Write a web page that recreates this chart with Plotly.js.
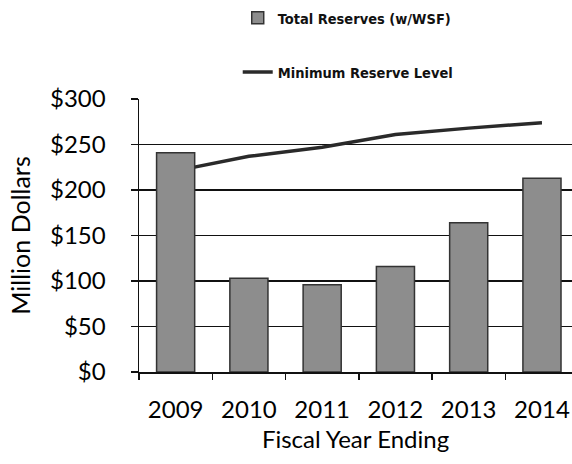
<!DOCTYPE html>
<html>
<head>
<meta charset="utf-8">
<script src="https://cdn.plot.ly/plotly-3.0.1.min.js"></script>
<style>html,body{margin:0;padding:0;background:#fff;}#chart{width:572px;height:464px;}</style>
</head>
<body>
<div id="chart"></div>
<script>
const years = ['2009', '2010', '2011', '2012', '2013', '2014'];
const totalReserves = [241, 103, 96, 116, 164, 213];
const minimumReserve = [221, 237, 247, 261, 268, 274];
const yTicks = [0, 50, 100, 150, 200, 250, 300];
const yTickLabels = yTicks.map(v => '$' + v);

const baseFont = 'Lato, "Open Sans", sans-serif';
const tickFont = {family: baseFont, size: 24, color: '#000'};
const legFont = {family: '"DejaVu Sans Condensed", "DejaVu Sans", sans-serif', size: 14.5, color: '#111', weight: 'bold'};

const traces = [
  {
    type: 'scatter', mode: 'lines', name: 'Minimum Reserve Level',
    x: years, y: minimumReserve, xaxis: 'x', yaxis: 'y',
    line: {color: '#2a2a2a', width: 3.5},
    legend: 'legend2', hoverinfo: 'skip'
  },
  {
    type: 'bar', name: 'Total Reserves (w/WSF)',
    x: years, y: totalReserves, xaxis: 'x', yaxis: 'y2',
    marker: {color: '#8d8d8d', line: {color: '#333', width: 1.5}},
    legend: 'legend', hoverinfo: 'skip'
  }
];

const layout = {
  width: 572, height: 464,
  margin: {l: 139, r: 0, t: 99, b: 92},
  paper_bgcolor: '#fff', plot_bgcolor: '#fff',
  bargap: 0.48,
  showlegend: true,
  xaxis: {
    type: 'category', range: [-0.5, 5.41],
    showline: true, linecolor: '#111', linewidth: 1.5,
    ticks: 'outside', tickson: 'boundaries', ticklen: 6, tickcolor: '#111', tickwidth: 1.5,
    tickfont: tickFont, ticklabelstandoff: 16,
    showgrid: false,
    title: {text: 'Fiscal Year Ending', font: {family: baseFont, size: 24, color: '#000'}, standoff: 9}
  },
  yaxis: {
    range: [0, 300], tickmode: 'array', tickvals: yTicks, ticktext: yTickLabels,
    showline: true, linecolor: '#111', linewidth: 1.5,
    ticks: 'outside', ticklen: 7, tickcolor: '#111', tickwidth: 1.5,
    showgrid: true, gridcolor: '#111', gridwidth: 1.5,
    zeroline: false,
    tickfont: tickFont, ticklabelstandoff: 20,
    title: {text: 'Million Dollars', font: {family: baseFont, size: 25, color: '#000'}, standoff: 12}
  },
  yaxis2: {
    range: [0, 300], overlaying: 'y', side: 'left',
    showgrid: false, showline: false, showticklabels: false, ticks: '', zeroline: false
  },
  legend: {
    x: 0.228, y: 1.297, xanchor: 'left', yanchor: 'middle',
    font: legFont, bgcolor: 'rgba(0,0,0,0)', itemwidth: 30
  },
  legend2: {
    x: 0.228, y: 1.099, xanchor: 'left', yanchor: 'middle',
    font: legFont, bgcolor: 'rgba(0,0,0,0)', itemwidth: 30
  }
};

Plotly.newPlot('chart', traces, layout, {staticPlot: true, displayModeBar: false});
</script>
</body>
</html>
